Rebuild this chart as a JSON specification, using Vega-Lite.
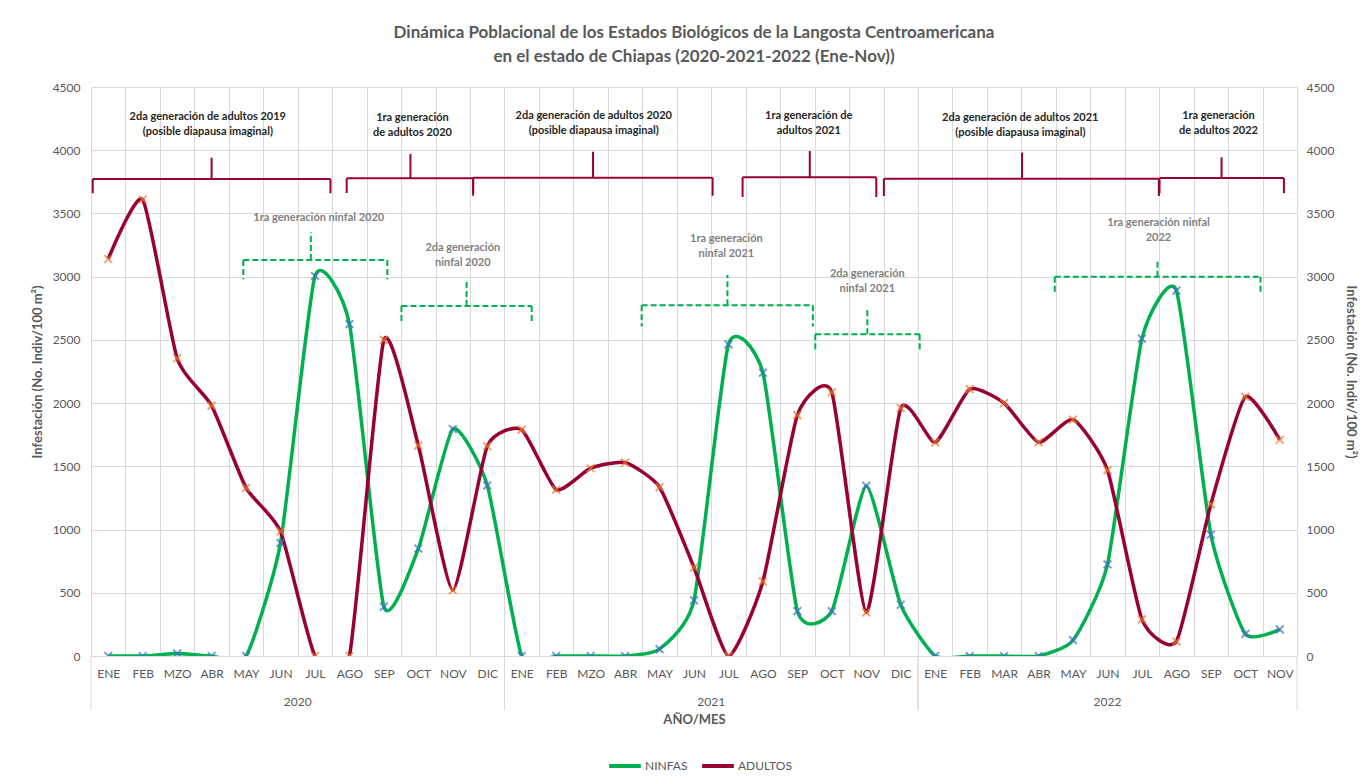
{
  "$schema": "https://vega.github.io/schema/vega-lite/v6.json",
  "width": 1206,
  "height": 569,
  "autosize": {"type": "none"},
  "padding": {"left": 91, "top": 87, "right": 74, "bottom": 127},
  "background": "white",
  "config": {"view": {"stroke": null}, "font": "Lato"},
  "title": {
    "text": ["Dinámica Poblacional  de los Estados Biológicos de la Langosta Centroamericana", "en el estado de Chiapas  (2020-2021-2022 (Ene-Nov))"],
    "fontSize": 17, "font": "Lato", "fontWeight": "bold", "color": "#595959",
    "anchor": "middle", "offset": 15, "lineHeight": 24
  },
  "datasets": {
    "serie": [
      {"periodo": "2020 ENE", "serie": "NINFAS", "valor": 0},
      {"periodo": "2020 FEB", "serie": "NINFAS", "valor": 0},
      {"periodo": "2020 MZO", "serie": "NINFAS", "valor": 20},
      {"periodo": "2020 ABR", "serie": "NINFAS", "valor": 0},
      {"periodo": "2020 MAY", "serie": "NINFAS", "valor": 0},
      {"periodo": "2020 JUN", "serie": "NINFAS", "valor": 895},
      {"periodo": "2020 JUL", "serie": "NINFAS", "valor": 3005},
      {"periodo": "2020 AGO", "serie": "NINFAS", "valor": 2625},
      {"periodo": "2020 SEP", "serie": "NINFAS", "valor": 390},
      {"periodo": "2020 OCT", "serie": "NINFAS", "valor": 850},
      {"periodo": "2020 NOV", "serie": "NINFAS", "valor": 1795},
      {"periodo": "2020 DIC", "serie": "NINFAS", "valor": 1350},
      {"periodo": "2021 ENE", "serie": "NINFAS", "valor": 0},
      {"periodo": "2021 FEB", "serie": "NINFAS", "valor": 0},
      {"periodo": "2021 MZO", "serie": "NINFAS", "valor": 0},
      {"periodo": "2021 ABR", "serie": "NINFAS", "valor": 0},
      {"periodo": "2021 MAY", "serie": "NINFAS", "valor": 55},
      {"periodo": "2021 JUN", "serie": "NINFAS", "valor": 440},
      {"periodo": "2021 JUL", "serie": "NINFAS", "valor": 2465},
      {"periodo": "2021 AGO", "serie": "NINFAS", "valor": 2240},
      {"periodo": "2021 SEP", "serie": "NINFAS", "valor": 355},
      {"periodo": "2021 OCT", "serie": "NINFAS", "valor": 355},
      {"periodo": "2021 NOV", "serie": "NINFAS", "valor": 1345},
      {"periodo": "2021 DIC", "serie": "NINFAS", "valor": 405},
      {"periodo": "2022 ENE", "serie": "NINFAS", "valor": 0},
      {"periodo": "2022 FEB", "serie": "NINFAS", "valor": 0},
      {"periodo": "2022 MAR", "serie": "NINFAS", "valor": 0},
      {"periodo": "2022 ABR", "serie": "NINFAS", "valor": 0},
      {"periodo": "2022 MAY", "serie": "NINFAS", "valor": 125},
      {"periodo": "2022 JUN", "serie": "NINFAS", "valor": 725},
      {"periodo": "2022 JUL", "serie": "NINFAS", "valor": 2510},
      {"periodo": "2022 AGO", "serie": "NINFAS", "valor": 2890},
      {"periodo": "2022 SEP", "serie": "NINFAS", "valor": 960},
      {"periodo": "2022 OCT", "serie": "NINFAS", "valor": 175},
      {"periodo": "2022 NOV", "serie": "NINFAS", "valor": 210},
      {"periodo": "2020 ENE", "serie": "ADULTOS", "valor": 3140},
      {"periodo": "2020 FEB", "serie": "ADULTOS", "valor": 3610},
      {"periodo": "2020 MZO", "serie": "ADULTOS", "valor": 2355},
      {"periodo": "2020 ABR", "serie": "ADULTOS", "valor": 1980},
      {"periodo": "2020 MAY", "serie": "ADULTOS", "valor": 1330},
      {"periodo": "2020 JUN", "serie": "ADULTOS", "valor": 985},
      {"periodo": "2020 JUL", "serie": "ADULTOS", "valor": 0},
      {"periodo": "2020 AGO", "serie": "ADULTOS", "valor": 0},
      {"periodo": "2020 SEP", "serie": "ADULTOS", "valor": 2500},
      {"periodo": "2020 OCT", "serie": "ADULTOS", "valor": 1665},
      {"periodo": "2020 NOV", "serie": "ADULTOS", "valor": 520},
      {"periodo": "2020 DIC", "serie": "ADULTOS", "valor": 1660},
      {"periodo": "2021 ENE", "serie": "ADULTOS", "valor": 1790},
      {"periodo": "2021 FEB", "serie": "ADULTOS", "valor": 1315},
      {"periodo": "2021 MZO", "serie": "ADULTOS", "valor": 1485},
      {"periodo": "2021 ABR", "serie": "ADULTOS", "valor": 1530},
      {"periodo": "2021 MAY", "serie": "ADULTOS", "valor": 1335},
      {"periodo": "2021 JUN", "serie": "ADULTOS", "valor": 700},
      {"periodo": "2021 JUL", "serie": "ADULTOS", "valor": 0},
      {"periodo": "2021 AGO", "serie": "ADULTOS", "valor": 590},
      {"periodo": "2021 SEP", "serie": "ADULTOS", "valor": 1905},
      {"periodo": "2021 OCT", "serie": "ADULTOS", "valor": 2085},
      {"periodo": "2021 NOV", "serie": "ADULTOS", "valor": 345},
      {"periodo": "2021 DIC", "serie": "ADULTOS", "valor": 1960},
      {"periodo": "2022 ENE", "serie": "ADULTOS", "valor": 1690},
      {"periodo": "2022 FEB", "serie": "ADULTOS", "valor": 2110},
      {"periodo": "2022 MAR", "serie": "ADULTOS", "valor": 2000},
      {"periodo": "2022 ABR", "serie": "ADULTOS", "valor": 1690},
      {"periodo": "2022 MAY", "serie": "ADULTOS", "valor": 1870},
      {"periodo": "2022 JUN", "serie": "ADULTOS", "valor": 1470},
      {"periodo": "2022 JUL", "serie": "ADULTOS", "valor": 290},
      {"periodo": "2022 AGO", "serie": "ADULTOS", "valor": 115},
      {"periodo": "2022 SEP", "serie": "ADULTOS", "valor": 1200},
      {"periodo": "2022 OCT", "serie": "ADULTOS", "valor": 2050},
      {"periodo": "2022 NOV", "serie": "ADULTOS", "valor": 1710}
    ],
    "anios": [
      {"anio": "2020", "desde": -0.5, "hasta": 11.5, "centro": 5.5},
      {"anio": "2021", "desde": 11.5, "hasta": 23.5, "centro": 17.5},
      {"anio": "2022", "desde": 23.5, "hasta": 34.5, "centro": 29}
    ],
    "llaves": [
      {"grupo": "adultos", "x0": -0.45, "x1": 6.45, "xm": 3.0, "barra": 3773, "punta": 3941, "gancho": 3660},
      {"grupo": "adultos", "x0": 6.92, "x1": 10.59, "xm": 8.77, "barra": 3778, "punta": 3970, "gancho": 3662},
      {"grupo": "adultos", "x0": 10.59, "x1": 17.54, "xm": 14.07, "barra": 3783, "punta": 3988, "gancho": 3640},
      {"grupo": "adultos", "x0": 18.41, "x1": 22.29, "xm": 20.36, "barra": 3786, "punta": 3994, "gancho": 3630},
      {"grupo": "adultos", "x0": 22.51, "x1": 30.49, "xm": 26.52, "barra": 3775, "punta": 3981, "gancho": 3638},
      {"grupo": "adultos", "x0": 30.51, "x1": 34.12, "xm": 32.31, "barra": 3780, "punta": 3944, "gancho": 3660},
      {"grupo": "ninfas", "x0": 3.92, "x1": 8.1, "xm": 5.88, "barra": 3132, "punta": 3351, "gancho": 2979},
      {"grupo": "ninfas", "x0": 8.51, "x1": 12.29, "xm": 10.4, "barra": 2768, "punta": 2960, "gancho": 2644},
      {"grupo": "ninfas", "x0": 15.48, "x1": 20.45, "xm": 17.97, "barra": 2774, "punta": 3013, "gancho": 2605},
      {"grupo": "ninfas", "x0": 20.52, "x1": 23.55, "xm": 22.03, "barra": 2544, "punta": 2755, "gancho": 2407},
      {"grupo": "ninfas", "x0": 27.47, "x1": 33.44, "xm": 30.45, "barra": 3000, "punta": 3124, "gancho": 2869}
    ],
    "notas": [
      {"grupo": "adultos", "texto": "2da generación de adultos 2019\n(posible diapausa imaginal)", "i": 2.89, "v": 4265},
      {"grupo": "adultos", "texto": "1ra generación\nde adultos 2020", "i": 8.83, "v": 4253},
      {"grupo": "adultos", "texto": "2da generación de adultos 2020\n(posible diapausa imaginal)", "i": 14.09, "v": 4270},
      {"grupo": "adultos", "texto": "1ra generación de\nadultos 2021", "i": 20.33, "v": 4272},
      {"grupo": "adultos", "texto": "2da generación de adultos 2021\n(posible diapausa imaginal)", "i": 26.47, "v": 4258},
      {"grupo": "adultos", "texto": "1ra generación\nde adultos 2022", "i": 32.22, "v": 4274},
      {"grupo": "ninfas", "texto": "1ra generación ninfal 2020", "i": 6.11, "v": 3467},
      {"grupo": "ninfas", "texto": "2da generación\nninfal 2020", "i": 10.29, "v": 3229},
      {"grupo": "ninfas", "texto": "1ra generación\nninfal 2021", "i": 17.94, "v": 3296},
      {"grupo": "ninfas", "texto": "2da generación\nninfal 2021", "i": 22.03, "v": 3025},
      {"grupo": "ninfas", "texto": "1ra generación ninfal\n2022", "i": 30.48, "v": 3424}
    ]
  },
  "layer": [
    {
      "data": {"name": "anios"},
      "mark": {"type": "rule", "color": "#d9d9d9", "strokeWidth": 1},
      "encoding": {
        "x": {"field": "desde", "type": "quantitative", "scale": {"domain": [-0.5, 34.5], "nice": false, "zero": false}, "axis": null},
        "y": {"datum": 0, "type": "quantitative", "axis": null},
        "y2": {"datum": -427}
      }
    },
    {
      "data": {"name": "anios"},
      "mark": {"type": "rule", "color": "#d9d9d9", "strokeWidth": 1},
      "encoding": {
        "x": {"field": "hasta", "type": "quantitative", "scale": {"domain": [-0.5, 34.5], "nice": false, "zero": false}, "axis": null},
        "y": {"datum": 0, "type": "quantitative", "axis": null},
        "y2": {"datum": -427}
      }
    },
    {
      "data": {"name": "anios"},
      "mark": {"type": "text", "color": "#595959", "fontSize": 12, "font": "Lato"},
      "encoding": {
        "x": {"field": "centro", "type": "quantitative", "scale": {"domain": [-0.5, 34.5], "nice": false, "zero": false}, "axis": null},
        "y": {"datum": -364, "type": "quantitative", "axis": null},
        "text": {"field": "anio"}
      }
    },
    {
      "data": {"name": "llaves"},
      "transform": [{"filter": "datum.grupo == 'adultos'"}],
      "layer": [
        {
          "mark": {"type": "rule", "color": "#990033", "strokeWidth": 2},
          "encoding": {
            "x": {"field": "x0", "type": "quantitative", "scale": {"domain": [-0.5, 34.5], "nice": false, "zero": false}, "axis": null},
            "x2": {"field": "x1"},
            "y": {"field": "barra", "type": "quantitative", "axis": null}
          }
        },
        {
          "mark": {"type": "rule", "color": "#990033", "strokeWidth": 2},
          "encoding": {
            "x": {"field": "xm", "type": "quantitative", "scale": {"domain": [-0.5, 34.5], "nice": false, "zero": false}, "axis": null},
            "y": {"field": "barra", "type": "quantitative", "axis": null},
            "y2": {"field": "punta"}
          }
        },
        {
          "mark": {"type": "rule", "color": "#990033", "strokeWidth": 2},
          "encoding": {
            "x": {"field": "x0", "type": "quantitative", "scale": {"domain": [-0.5, 34.5], "nice": false, "zero": false}, "axis": null},
            "y": {"field": "barra", "type": "quantitative", "axis": null},
            "y2": {"field": "gancho"}
          }
        },
        {
          "mark": {"type": "rule", "color": "#990033", "strokeWidth": 2},
          "encoding": {
            "x": {"field": "x1", "type": "quantitative", "scale": {"domain": [-0.5, 34.5], "nice": false, "zero": false}, "axis": null},
            "y": {"field": "barra", "type": "quantitative", "axis": null},
            "y2": {"field": "gancho"}
          }
        }
      ]
    },
    {
      "data": {"name": "llaves"},
      "transform": [{"filter": "datum.grupo == 'ninfas'"}],
      "layer": [
        {
          "mark": {"type": "rule", "color": "#00B050", "strokeWidth": 2, "strokeDash": [6, 3]},
          "encoding": {
            "x": {"field": "x0", "type": "quantitative", "scale": {"domain": [-0.5, 34.5], "nice": false, "zero": false}, "axis": null},
            "x2": {"field": "x1"},
            "y": {"field": "barra", "type": "quantitative", "axis": null}
          }
        },
        {
          "mark": {"type": "rule", "color": "#00B050", "strokeWidth": 2, "strokeDash": [6, 3]},
          "encoding": {
            "x": {"field": "xm", "type": "quantitative", "scale": {"domain": [-0.5, 34.5], "nice": false, "zero": false}, "axis": null},
            "y": {"field": "barra", "type": "quantitative", "axis": null},
            "y2": {"field": "punta"}
          }
        },
        {
          "mark": {"type": "rule", "color": "#00B050", "strokeWidth": 2, "strokeDash": [6, 3]},
          "encoding": {
            "x": {"field": "x0", "type": "quantitative", "scale": {"domain": [-0.5, 34.5], "nice": false, "zero": false}, "axis": null},
            "y": {"field": "barra", "type": "quantitative", "axis": null},
            "y2": {"field": "gancho"}
          }
        },
        {
          "mark": {"type": "rule", "color": "#00B050", "strokeWidth": 2, "strokeDash": [6, 3]},
          "encoding": {
            "x": {"field": "x1", "type": "quantitative", "scale": {"domain": [-0.5, 34.5], "nice": false, "zero": false}, "axis": null},
            "y": {"field": "barra", "type": "quantitative", "axis": null},
            "y2": {"field": "gancho"}
          }
        }
      ]
    },
    {
      "data": {"name": "notas"},
      "transform": [{"filter": "datum.grupo == 'adultos'"}],
      "mark": {"type": "text", "color": "#262626", "fontSize": 11, "fontWeight": "bold", "font": "Lato", "lineBreak": "\n", "lineHeight": 15, "baseline": "middle"},
      "encoding": {
        "x": {"field": "i", "type": "quantitative", "scale": {"domain": [-0.5, 34.5], "nice": false, "zero": false}, "axis": null},
        "y": {"field": "v", "type": "quantitative", "axis": null},
        "text": {"field": "texto"}
      }
    },
    {
      "data": {"name": "notas"},
      "transform": [{"filter": "datum.grupo == 'ninfas'"}],
      "mark": {"type": "text", "color": "#7F7F7F", "fontSize": 11, "fontWeight": "bold", "font": "Lato", "lineBreak": "\n", "lineHeight": 15, "baseline": "middle"},
      "encoding": {
        "x": {"field": "i", "type": "quantitative", "scale": {"domain": [-0.5, 34.5], "nice": false, "zero": false}, "axis": null},
        "y": {"field": "v", "type": "quantitative", "axis": null},
        "text": {"field": "texto"}
      }
    },
    {
      "data": {"name": "serie"},
      "mark": {"type": "line", "interpolate": "cardinal", "tension": 0.45, "strokeWidth": 3.5, "clip": true},
      "encoding": {
        "x": {
          "field": "periodo", "type": "nominal", "sort": null,
          "scale": {"paddingInner": 0, "paddingOuter": 0},
          "axis": {
            "labelExpr": "split(datum.label, ' ')[1]", "labelAngle": 0, "labelColor": "#595959", "labelFontSize": 12, "labelFont": "Lato",
            "labelPadding": 12, "ticks": false, "tickBand": "extent", "grid": true, "gridColor": "#d9d9d9", "domainColor": "#d9d9d9",
            "title": "AÑO/MES", "titleColor": "#595959", "titleFontSize": 13, "titleFont": "Lato", "titleFontWeight": "bold", "titlePadding": 34
          }
        },
        "y": {
          "field": "valor", "type": "quantitative",
          "scale": {"domain": [0, 4500], "nice": false},
          "axis": {
            "orient": "left", "values": [0, 500, 1000, 1500, 2000, 2500, 3000, 3500, 4000, 4500], "format": "d",
            "grid": true, "gridColor": "#d9d9d9", "domain": false, "ticks": false,
            "labelColor": "#595959", "labelFontSize": 12, "labelFont": "Lato", "labelPadding": 11,
            "title": "Infestación (No. Indiv/100 m²)", "titleColor": "#595959", "titleFontSize": 13, "titleFont": "Lato", "titleFontWeight": "bold", "titlePadding": 8
          }
        },
        "color": {
          "field": "serie", "type": "nominal",
          "scale": {"domain": ["NINFAS", "ADULTOS"], "range": ["#00B050", "#990033"]},
          "legend": {
            "orient": "none", "legendX": 516, "legendY": 661, "direction": "horizontal", "title": null,
            "symbolType": "stroke", "symbolSize": 1000, "symbolStrokeWidth": 4,
            "labelColor": "#595959", "labelFontSize": 12, "labelFont": "Lato", "columnPadding": 6, "labelOffset": 2
          }
        }
      }
    },
    {
      "data": {"name": "serie"},
      "mark": {"type": "point", "shape": "M-1,-1L1,1M-1,1L1,-1", "filled": false, "strokeWidth": 2, "size": 60, "clip": true},
      "encoding": {
        "x": {"field": "periodo", "type": "nominal", "sort": null, "scale": {"paddingInner": 0, "paddingOuter": 0}, "axis": null},
        "y": {
          "field": "valor", "type": "quantitative",
          "axis": {
            "orient": "right", "values": [0, 500, 1000, 1500, 2000, 2500, 3000, 3500, 4000, 4500], "format": "d",
            "grid": false, "domain": false, "ticks": false,
            "labelColor": "#595959", "labelFontSize": 12, "labelFont": "Lato", "labelPadding": 9,
            "title": "Infestación (No. Indiv/100 m²)", "titleColor": "#595959", "titleFontSize": 13, "titleFont": "Lato", "titleFontWeight": "bold", "titlePadding": 10
          }
        },
        "stroke": {
          "field": "serie", "type": "nominal",
          "scale": {"domain": ["NINFAS", "ADULTOS"], "range": ["#4472C4", "#ED7D31"]},
          "legend": null
        }
      }
    }
  ],
  "resolve": {"scale": {"x": "independent"}, "axis": {"x": "independent", "y": "independent"}}
}
